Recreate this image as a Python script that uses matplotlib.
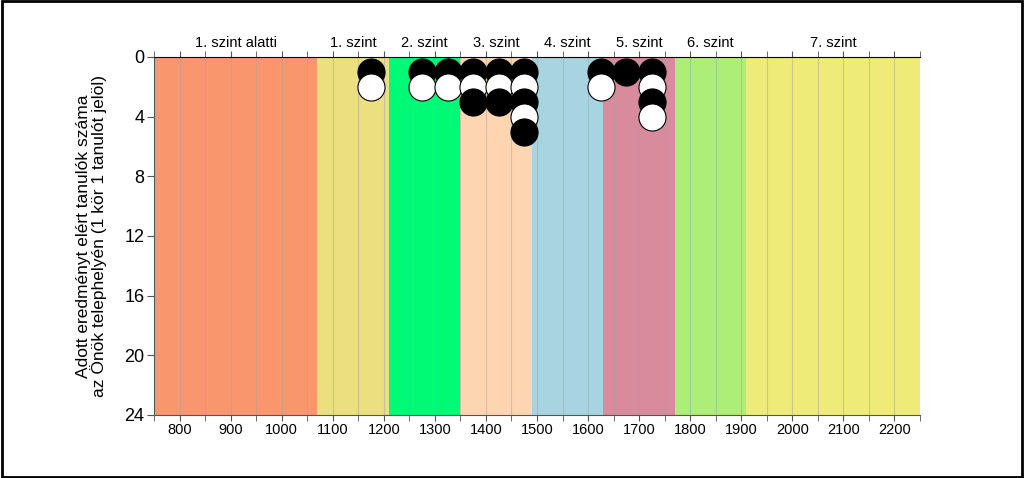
import numpy as np
import matplotlib
matplotlib.use("Agg")
import matplotlib.pyplot as plt
import matplotlib.transforms as mtransforms
from matplotlib.patches import Rectangle

plt.rcParams['font.family'] = ['Liberation Sans', 'DejaVu Sans']

# level bands (score limits) and their names / colours
band_edges = [750, 1070, 1210, 1350, 1490, 1630, 1770, 1910, 2250]
band_names = ['1. szint alatti', '1. szint', '2. szint', '3. szint',
              '4. szint', '5. szint', '6. szint', '7. szint']
band_colors = ['#FA966E', '#EBDF80', '#00FA75', '#FDD6B1',
               '#A8D4E2', '#D88B9C', '#ADEE78', '#EEEB78']

# students: score column and how many students are in it
score_cols = [1175, 1275, 1325, 1375, 1425, 1475, 1625, 1675, 1725]
counts = [2, 2, 2, 3, 3, 5, 2, 1, 4]

x_ticks = [800, 900, 1000, 1100, 1200, 1300, 1400, 1500, 1600,
           1700, 1800, 1900, 2000, 2100, 2200]
y_ticks = [0, 4, 8, 12, 16, 20, 24]

fig = plt.figure(figsize=(10.24, 4.78), dpi=100)
ax = fig.add_axes([0.1504, 0.1318, 0.748, 0.749])

for i in range(len(band_names)):
    ax.axvspan(band_edges[i], band_edges[i + 1], color=band_colors[i], lw=0, zorder=0)

# grid lines every 50 points
for gx in np.arange(800, 2250, 50):
    ax.axvline(gx, color='#A0A0A0', lw=0.8, alpha=0.45, zorder=1)

# circles, one per student, rows alternate black / white
for xc, n in zip(score_cols, counts):
    for k in range(1, n + 1):
        fc = 'black' if k % 2 == 1 else 'white'
        ax.scatter([xc], [k], s=380, c=fc, edgecolors='black', linewidths=0.8, zorder=2 + k)

ax.set_xlim(750, 2250)
ax.set_ylim(24, 0)
ax.set_xticks(x_ticks)
ax.set_xticks(np.arange(750, 2251, 50), minor=True)
ax.set_yticks(y_ticks)
ax.tick_params(axis='x', which='both', top=True, direction='out', length=4,
               color='#555555', labelsize=10.5, pad=2)
ax.tick_params(axis='x', which='minor', length=4)
ax.tick_params(axis='y', direction='out', length=5, color='#555555', labelsize=13, pad=2)

ax.spines['right'].set_visible(False)
ax.spines['top'].set_color('black')
ax.spines['left'].set_color('#555555')
ax.spines['bottom'].set_color('#555555')

ax.set_ylabel('Adott eredményt elért tanulók száma\naz Önök telephelyén (1 kör 1 tanulót jelöl)',
              fontsize=12.5, labelpad=12, linespacing=1.0)

trans = mtransforms.blended_transform_factory(ax.transData, ax.transAxes)
for i, name in enumerate(band_names):
    xm = (band_edges[i] + band_edges[i + 1]) / 2
    ax.text(xm, 1.02, name, transform=trans, ha='center', va='bottom', fontsize=10.5)

# frame round the whole picture
fig.patches.append(Rectangle((0.002, 0.003), 0.996, 0.994, transform=fig.transFigure,
                             fill=False, edgecolor='black', lw=2))

fig.savefig('out.png', dpi=100)
